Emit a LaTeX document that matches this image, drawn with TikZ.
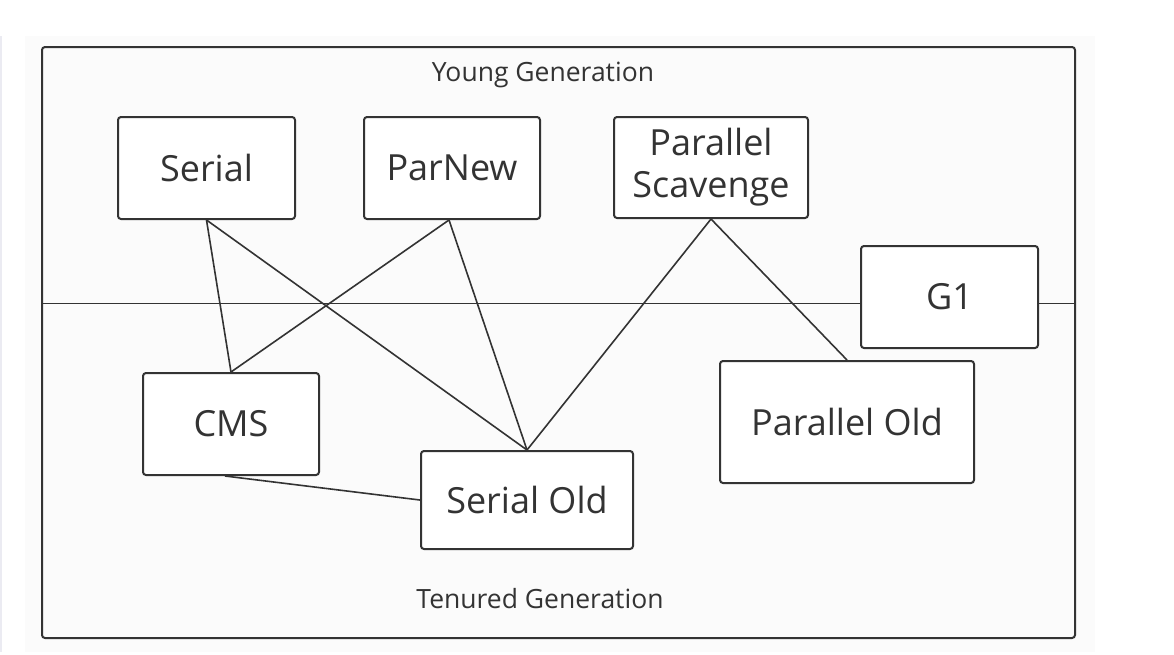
\documentclass[tikz,border=0pt]{standalone}
\usepackage{fontspec}
\setmainfont{Open Sans}
\usetikzlibrary{calc}
\definecolor{ink}{HTML}{333333}
\definecolor{paper}{HTML}{FBFBFB}
\definecolor{strip}{HTML}{EBEBF2}
\begin{document}
\begin{tikzpicture}[x=1pt,y=-1pt,
  gcbox/.style={draw=ink,line width=2pt,rounded corners=3pt,fill=white,
    inner sep=0pt,text=ink,font=\fontsize{36}{42}\selectfont,align=center},
  link/.style={draw=ink,line width=1.6pt},
  caption/.style={text=ink,font=\fontsize{26.5}{30}\selectfont,inner sep=0pt}]
\useasboundingbox (0,0) rectangle (1174,654);
\fill[white] (0,0) rectangle (1174,654);
\fill[paper] (25,36) rectangle (1095,652);
\fill[strip] (0,36) rectangle (2,652);
% outer frame and divider
\draw[ink,line width=2pt,rounded corners=3pt] (42,47) rectangle (1075,638);
\draw[ink,line width=0.9pt] (42,303) -- (1075,303);
% boxes
\node[gcbox,minimum width=177pt,minimum height=102pt] (serial) at (206.5,168) {Serial};
\node[gcbox,minimum width=176pt,minimum height=102pt] (parnew) at (452,168) {ParNew};
\node[gcbox,minimum width=194pt,minimum height=101pt] (ps) at (711,167.5) {Parallel\\Scavenge};
\node[gcbox,minimum width=177pt,minimum height=102pt] (g1) at (949.5,297) {G1};
\node[gcbox,minimum width=176pt,minimum height=102pt] (cms) at (231,424) {CMS};
\node[gcbox,minimum width=212pt,minimum height=98pt] (serialold) at (527,500) {Serial Old};
\node[gcbox,minimum width=254pt,minimum height=122pt] (parold) at (847,422) {Parallel Old};
% captions
\node[caption] (young) at (543,75) {Young Generation};
\node[caption] (tenured) at (540,599) {Tenured Generation};
% connectors
\draw[link] (serial.south) -- (cms.north);
\draw[link] (serial.south) -- (serialold.north);
\draw[link] ([xshift=-3pt]parnew.south) -- (cms.north);
\draw[link] ([xshift=-3pt]parnew.south) -- (serialold.north);
\draw[link] (ps.south) -- (serialold.north);
\draw[link] (ps.south) -- (parold.north);
\draw[link] ([xshift=-6pt]cms.south) -- (serialold.west);
\end{tikzpicture}
\end{document}
